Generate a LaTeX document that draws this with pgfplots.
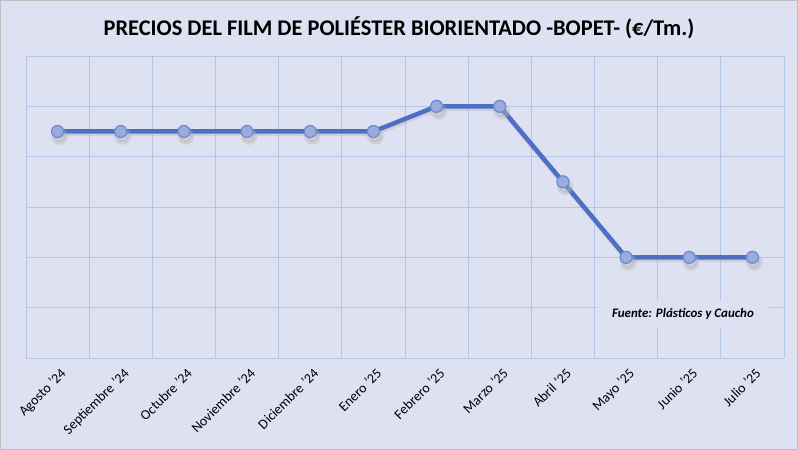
\documentclass[border=0pt]{standalone}
\usepackage{pgfplots}
\pgfplotsset{compat=1.18}
\usepackage{fontspec}
\setmainfont{Carlito}
\definecolor{bgc}{HTML}{DDE1F1}
\definecolor{gridc}{HTML}{B4C6E7}
\definecolor{linec}{HTML}{4F6FC4}
\definecolor{markf}{HTML}{98ACDF}
\definecolor{marke}{HTML}{6F89CF}
\begin{document}
\begin{tikzpicture}[x=1bp,y=1bp]
\fill[bgc] (0,0) rectangle (798,450);
\draw[black!25, line width=1bp] (0.5,0.5) rectangle (797.5,449.5);
\node[font=\bfseries\fontsize{22.5}{26}\selectfont] at (399,422) {PRECIOS DEL FILM DE POLIÉSTER BIORIENTADO -BOPET- (€/Tm.)};
\begin{axis}[
  at={(26bp,92bp)}, anchor=south west,
  scale only axis, width=758bp, height=302bp,
  xmin=-0.5, xmax=11.5, ymin=0, ymax=6,
  axis line style={draw=none},
  xtick={0,...,11},
  xticklabels={Agosto '24,Septiembre '24,Octubre '24,Noviembre '24,Diciembre '24,Enero '25,Febrero '25,Marzo '25,Abril '25,Mayo '25,Junio '25,Julio '25},
  x tick label style={rotate=45, anchor=north east, font=\fontsize{14}{16}\selectfont, inner sep=1bp, xshift=-4bp, yshift=-7bp},
  minor xtick={-0.5,0.5,...,11.5},
  xminorgrids, ymajorgrids,
  ytick={0,...,6}, yticklabels={},
  major tick length=0pt, minor tick length=0pt,
  grid style={gridc, line width=0.8bp},
  minor grid style={gridc, line width=0.8bp},
  clip=false,
]
\node[fill=bgc, minimum width=172bp, minimum height=28bp, inner sep=0pt, font=\bfseries\itshape\fontsize{13}{15}\selectfont] at (axis cs:9.9,0.87) {Fuente: Plásticos y Caucho};
\addplot[black!30, opacity=0.35, line width=4.5bp, mark=*, mark size=6bp, transform canvas={xshift=1bp,yshift=-2.5bp}] coordinates {
(0,4.5) (1,4.5) (2,4.5) (3,4.5) (4,4.5) (5,4.5) (6,5) (7,5) (8,3.5) (9,2) (10,2) (11,2)};
\addplot[linec, line width=4.5bp, mark=*, mark size=6bp, mark options={fill=markf, draw=marke, line width=1.2bp}] coordinates {
(0,4.5) (1,4.5) (2,4.5) (3,4.5) (4,4.5) (5,4.5) (6,5) (7,5) (8,3.5) (9,2) (10,2) (11,2)};
\end{axis}
\end{tikzpicture}
\end{document}
